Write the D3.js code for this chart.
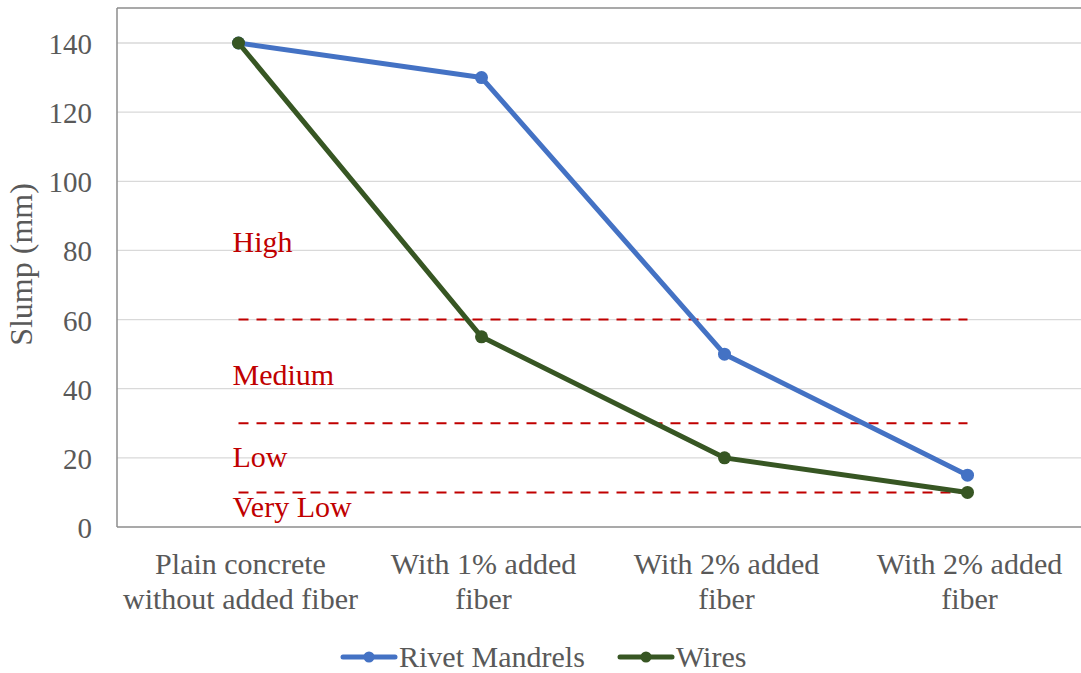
<!DOCTYPE html>
<html>
<head>
<meta charset="utf-8">
<script src="https://cdn.jsdelivr.net/npm/d3@7"></script>
<style>
  html, body { margin: 0; padding: 0; background: #fff; }
  svg { display: block; }
  text { font-family: "Liberation Serif", "Times New Roman", serif; }
</style>
</head>
<body>
<svg id="chart" width="1081" height="673"></svg>
<script>
// Slump categories (two-line labels)
const categories = [
  ["Plain concrete", "without added fiber"],
  ["With 1% added", "fiber"],
  ["With 2% added", "fiber"],
  ["With 2% added", "fiber"]
];
const rivetMandrels = [140, 130, 50, 15];
const wires = [140, 55, 20, 10];
const yTicks = [0, 20, 40, 60, 80, 100, 120, 140];
const zoneLimits = [60, 30, 10];
const zoneLabels = ["High", "Medium", "Low", "Very Low"];
const zoneLabelValues = [79.5, 41, 17.5, 3];

const series = [
  { name: "Rivet Mandrels", values: rivetMandrels, color: "#4472C4" },
  { name: "Wires", values: wires, color: "#375623" }
];

const svg = d3.select("#chart");
const plotLeft = 117, plotTop = 8, plotRight = 1089, plotBottom = 527;

const x = d3.scaleBand().domain(d3.range(categories.length)).range([plotLeft, plotRight]);
const y = d3.scaleLinear().domain([0, 150]).range([plotBottom, plotBottom - 150 * (484 / 140)]);
const cx = i => x(i) + x.bandwidth() / 2;

// Gridlines
svg.append("g").selectAll("line").data(yTicks.filter(d => d > 0)).join("line")
  .attr("x1", plotLeft).attr("x2", 1081)
  .attr("y1", d => y(d)).attr("y2", d => y(d))
  .attr("stroke", "#d9d9d9").attr("stroke-width", 1.3);

// Plot frame
svg.append("line").attr("x1", plotLeft).attr("x2", 1081).attr("y1", plotTop).attr("y2", plotTop)
  .attr("stroke", "#8c8c8c").attr("stroke-width", 1.5);
svg.append("line").attr("x1", plotLeft).attr("x2", plotLeft).attr("y1", plotTop).attr("y2", plotBottom)
  .attr("stroke", "#8c8c8c").attr("stroke-width", 1.5);
svg.append("line").attr("x1", plotLeft).attr("x2", 1081).attr("y1", plotBottom).attr("y2", plotBottom)
  .attr("stroke", "#8c8c8c").attr("stroke-width", 1.5);

// Y axis labels
const yAxis = d3.axisLeft(y).tickValues(yTicks).tickSize(0).tickPadding(0);
const ya = svg.append("g").attr("transform", `translate(${plotLeft - 25},0)`).call(yAxis);
ya.select(".domain").remove();
ya.selectAll("text").attr("font-size", 29).attr("fill", "#595959")
  .attr("font-family", "Liberation Serif, serif").attr("dy", "0.36em");

svg.append("text")
  .attr("transform", `translate(32,${(plotTop + plotBottom) / 2 - 3}) rotate(-90)`)
  .attr("text-anchor", "middle").attr("font-size", 32).attr("fill", "#595959")
  .text("Slump (mm)");

// X axis labels
const xl = svg.append("g").selectAll("text").data(categories).join("text")
  .attr("text-anchor", "middle").attr("font-size", 30).attr("fill", "#595959")
  .attr("x", (d, i) => cx(i) + 2).attr("y", 574);
xl.selectAll("tspan").data(d => d).join("tspan")
  .attr("x", function () { return d3.select(this.parentNode).attr("x"); })
  .attr("dy", (d, i) => i === 0 ? 0 : 35)
  .text(d => d);

// Consistency zone boundaries
svg.append("g").selectAll("line").data(zoneLimits).join("line")
  .attr("x1", cx(0)).attr("x2", cx(3))
  .attr("y1", d => y(d)).attr("y2", d => y(d))
  .attr("stroke", "#C00000").attr("stroke-width", 2)
  .attr("stroke-dasharray", "10,8");

svg.append("g").selectAll("text").data(zoneLabels).join("text")
  .attr("x", cx(0) - 6).attr("y", (d, i) => y(zoneLabelValues[i]))
  .attr("font-size", 30).attr("fill", "#C00000")
  .text(d => d);

// Series lines and markers
const line = d3.line().x((d, i) => cx(i)).y(d => y(d));
series.forEach(s => {
  const g = svg.append("g");
  g.append("path").datum(s.values).attr("d", line)
    .attr("fill", "none").attr("stroke", s.color).attr("stroke-width", 5)
    .attr("stroke-linejoin", "round").attr("stroke-linecap", "round");
  g.selectAll("circle").data(s.values).join("circle")
    .attr("cx", (d, i) => cx(i)).attr("cy", d => y(d)).attr("r", 6.5)
    .attr("fill", s.color);
});

// Legend
const legendItems = [
  { x0: 343, tx: 399 },
  { x0: 620, tx: 676 }
];
const ly = 657;
series.forEach((s, i) => {
  const it = legendItems[i];
  svg.append("line").attr("x1", it.x0).attr("x2", it.x0 + 52).attr("y1", ly).attr("y2", ly)
    .attr("stroke", s.color).attr("stroke-width", 5).attr("stroke-linecap", "round");
  svg.append("circle").attr("cx", it.x0 + 26).attr("cy", ly).attr("r", 5.5).attr("fill", s.color);
  svg.append("text").attr("x", it.tx).attr("y", ly + 10)
    .attr("font-size", 30).attr("fill", "#595959").text(s.name);
});
</script>
</body>
</html>
